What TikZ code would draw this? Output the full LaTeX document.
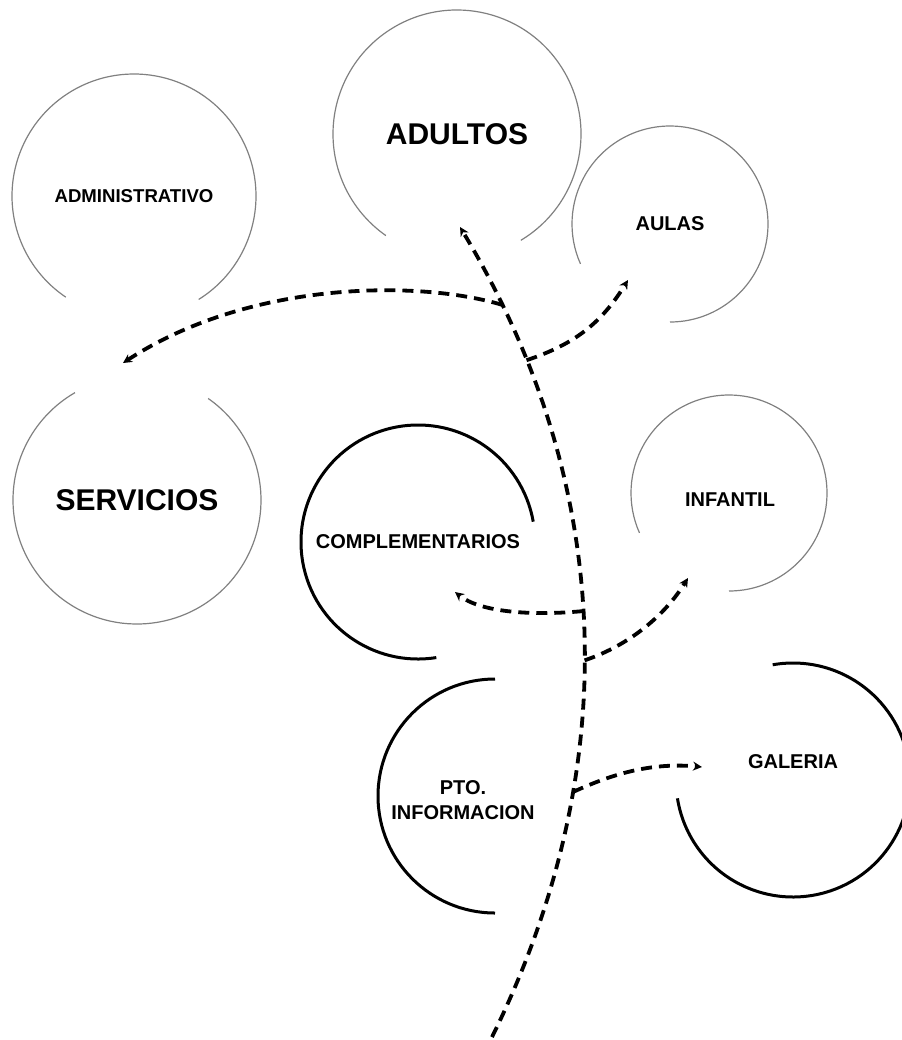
\documentclass[tikz,border=0pt]{standalone}
\usepackage{fontspec}
\setmainfont{Liberation Sans}
\usepackage{tikz}
\usetikzlibrary{arrows.meta}
\definecolor{grisaro}{rgb}{0.50,0.50,0.50}
\tikzset{
  aro/.style={
    draw=grisaro,
    line width=0.6pt
  },
  arofuerte/.style={
    draw=black,
    line width=1.5pt
  },
  rotulo/.style={
    align=center,
    inner sep=0pt,
    font=\bfseries\fontsize{10}{12.5}\selectfont
  },
  rotulogrande/.style={
    inner sep=0pt,
    font=\bfseries\fontsize{15}{18}\selectfont
  },
  flujo/.style={
    -{Stealth[length=4.5pt,width=4.5pt]},
    line width=1.9pt,
    dash pattern=on 5.5pt off 3.5pt
  }
}

\begin{document}
\begin{tikzpicture}[x=0.5pt,y=0.5pt]
\useasboundingbox (0,0) rectangle (901,-1040);
% zonas
\node[rotulo, font=\bfseries\fontsize{9.3}{11}\selectfont] (admin) at (134,-196) {ADMINISTRATIVO};
\node[rotulogrande] (adultos) at (457,-134) {ADULTOS};
\node[rotulo] (aulas) at (670,-224) {AULAS};
\node[rotulogrande] (servicios) at (137,-500) {SERVICIOS};
\node[rotulo] (compl) at (418,-542) {COMPLEMENTARIOS};
\node[rotulo] (infantil) at (730,-500) {INFANTIL};
\node[rotulo] (pto) at (463,-800) {PTO.\\INFORMACION};
\node[rotulo] (galeria) at (793,-762) {GALERIA};
\coordinate (cinf) at (729,-493);
\coordinate (cpto) at (495,-796);
\coordinate (cgal) at (793,-780);
% aros abiertos
\draw[aro] (admin.center) ++(-58:122) arc[start angle=-58, end angle=236, radius=122];
\draw[aro] (adultos.center) ++(-59:124) arc[start angle=-59, end angle=235, radius=124];
\draw[aro] (aulas.center) ++(-90:98) arc[start angle=-90, end angle=204, radius=98];
\draw[aro] (servicios.center) ++(55:124) arc[start angle=55, end angle=-240, radius=124];
\draw[arofuerte] (compl.center) ++(10:117) arc[start angle=10, end angle=279, radius=117];
\draw[aro] (cinf) ++(-90:98) arc[start angle=-90, end angle=204, radius=98];
\draw[arofuerte] (cpto) ++(90:117) arc[start angle=90, end angle=270, radius=117];
\draw[arofuerte] (cgal) ++(100:117) arc[start angle=100, end angle=-171, radius=117];
% recorrido
\coordinate (entrada) at (492,-1037);
\coordinate (puntaadultos) at (460,-227);
\coordinate (puntaserv) at (123,-363);
\coordinate (puntaaulas) at (628,-280);
\coordinate (puntacompl) at (455,-592);
\coordinate (puntainf) at (688,-578);
\coordinate (puntagal) at (702,-767);
\draw[flujo] (entrada) .. controls (625,-768) and (615,-484) .. (puntaadultos)
  coordinate[pos=0.30] (jgal) coordinate[pos=0.46] (jinf) coordinate[pos=0.52] (jcompl)
  coordinate[pos=0.83] (jaulas) coordinate[pos=0.90] (jserv);
\draw[flujo] (jserv) .. controls (420,-280) and (250,-280) .. (puntaserv);
\draw[flujo] (jaulas) to[bend right=20] (puntaaulas);
\draw[flujo] (jcompl) .. controls (530,-616) and (480,-612) .. (puntacompl);
\draw[flujo] (jinf) .. controls (630,-645) and (665,-615) .. (puntainf);
\draw[flujo] (jgal) .. controls (610,-775) and (650,-762) .. (puntagal);
\end{tikzpicture}
\end{document}
